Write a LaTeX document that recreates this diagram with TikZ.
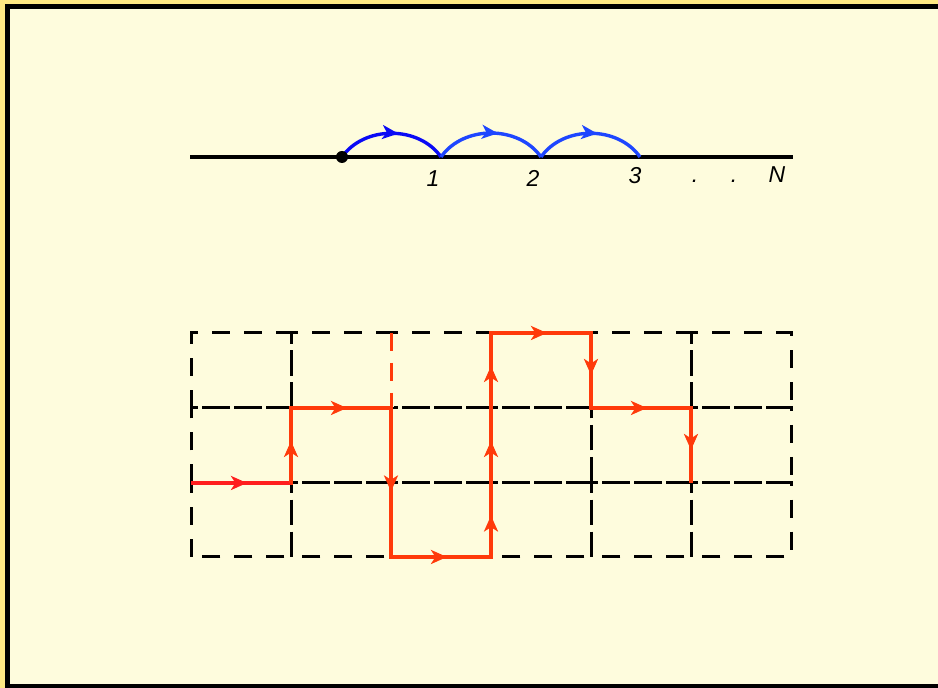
\documentclass[tikz,border=0pt]{standalone}
\usepackage{fontspec}
\setsansfont{Liberation Sans}
\usetikzlibrary{arrows.meta,decorations.markings}
\definecolor{slidebg}{HTML}{FEFCDD}
\definecolor{slideedge}{HTML}{FFE984}
\definecolor{hopblue}{HTML}{0A0AF5}
\definecolor{hopblueb}{HTML}{1E46FF}
\definecolor{walkred}{HTML}{FF1E1E}
\definecolor{walkredb}{HTML}{FF3A0A}

\begin{document}
\begin{tikzpicture}[x=0.5pt,y=0.5pt,
  midarrow/.style={decoration={markings,mark=at position 0.56 with {\arrow{Stealth[length=8pt,width=7pt,inset=2.2pt]}}},postaction={decorate}},
  hop/.style={hopblueb,line width=1.7pt,midarrow},
  cellbox/.style={black,line width=1.5pt,dash pattern=on 9pt off 7pt},
  walk/.style={walkredb,line width=2.3pt},
  lbl/.style={anchor=base,inner sep=0pt,font=\sffamily\itshape\fontsize{11.5}{13}\selectfont}]
  \fill[slideedge] (0,0) rectangle (938,688);
  \fill[black] (5,0) rectangle (938,684);
  \fill[slidebg] (10,4) rectangle (938,679);
  \useasboundingbox (0,0) rectangle (938,688);

  \coordinate (lineL) at (190,531);
  \coordinate (lineR) at (793,531);
  \coordinate (p0) at (342,531);
  \coordinate (p1) at (441,531);
  \coordinate (p2) at (541,531);
  \coordinate (p3) at (640,531);
  \draw[line width=2pt] (lineL) -- (lineR);
  \draw[hop,hopblue] (p0) to[bend left=55] (p1);
  \draw[hop] (p1) to[bend left=55] (p2);
  \draw[hop] (p2) to[bend left=55] (p3);
  \fill (p0) circle (3pt);
  \node[lbl] (n1) at (433,501) {1};
  \node[lbl] (n2) at (533,501) {2};
  \node[lbl] (n3) at (635,504) {3};
  \node[lbl] (dotA) at (695,505) {.};
  \node[lbl] (dotB) at (734,505) {.};
  \node[lbl] (nN) at (777,505) {N};

  \foreach \i in {0,...,5}
    \foreach \j in {0,1,2}
      \draw[cellbox] ({191+100*\i},{131+74.7*\j}) rectangle ++(100,74.7);
  \draw[slidebg,line width=2.7pt] (391,354) -- (391,281);
  \draw[walkredb,line width=1.5pt,dash pattern=on 9pt off 6pt] (391,355) -- (391,280);

  \coordinate (r0) at (191,205);
  \coordinate (r1) at (291,205);
  \coordinate (r2) at (291,280);
  \coordinate (r3) at (391,280);
  \coordinate (r4) at (391,131);
  \coordinate (r5) at (491,131);
  \coordinate (r6) at (491,205);
  \coordinate (r7) at (491,280);
  \coordinate (r8) at (491,355);
  \coordinate (r9) at (591,355);
  \coordinate (r10) at (591,280);
  \coordinate (r11) at (691,280);
  \coordinate (r12) at (691,205);
  \draw[walk] (r0) -- (r1) -- (r2) -- (r3) -- (r4) -- (r5) -- (r8) -- (r9) -- (r10) -- (r11) -- (r12);
  \draw[walk,walkred,midarrow] (r0) -- (r1);
  \foreach \a/\b in {r1/r2,r2/r3,r3/r4,r4/r5,r5/r6,r6/r7,r7/r8,r8/r9,r9/r10,r10/r11,r11/r12}
    \draw[walk,midarrow] (\a) -- (\b);
\end{tikzpicture}
\end{document}
